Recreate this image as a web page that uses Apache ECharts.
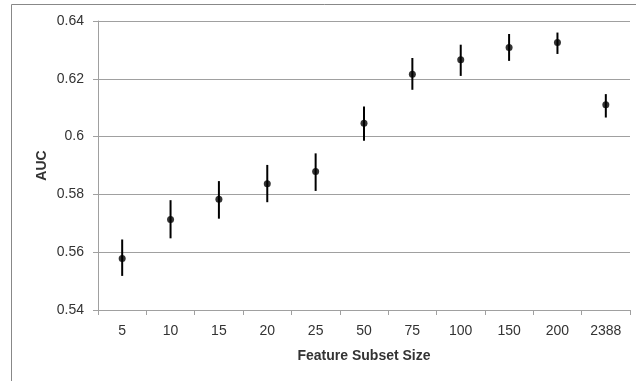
<!DOCTYPE html>
<html>
<head>
<meta charset="utf-8">
<script src="https://cdn.jsdelivr.net/npm/echarts@6/dist/echarts.min.js"></script>
<style>
  html, body { margin: 0; padding: 0; background: #fff; }
  #chart { width: 636px; height: 381px; }
</style>
</head>
<body>
<div id="chart"></div>
<script>
// Feature subset sizes on the category axis
const categories = ['5', '10', '15', '20', '25', '50', '75', '100', '150', '200', '2388'];
// Mean AUC per subset size
const aucMean = [0.5578, 0.5713, 0.5783, 0.5837, 0.5879, 0.6046, 0.6216, 0.6266, 0.6308, 0.6326, 0.6110];
// Lower and upper ends of the error bars
const aucLow  = [0.5518, 0.5648, 0.5716, 0.5773, 0.5812, 0.5986, 0.6162, 0.6210, 0.6262, 0.6286, 0.6066];
const aucHigh = [0.5644, 0.5780, 0.5846, 0.5902, 0.5942, 0.6104, 0.6272, 0.6318, 0.6355, 0.6360, 0.6147];
// Value axis tick labels
const yTicks = ['0.54', '0.56', '0.58', '0.6', '0.62', '0.64'];

const chart = echarts.init(document.getElementById('chart'), null, { renderer: 'canvas' });

const textColor = '#333';
const fontFamily = '"Liberation Sans", Arial, sans-serif';

const errData = categories.map((c, i) => [i, aucLow[i], aucHigh[i]]);

chart.setOption({
  animation: false,
  backgroundColor: '#fff',
  graphic: [{
    type: 'rect',
    shape: { x: 11.5, y: 4.5, width: 900, height: 900 },
    style: { fill: 'none', stroke: '#888', lineWidth: 1 },
    silent: true,
    z: -10
  }],
  grid: { left: 98, right: 6, top: 21, bottom: 71 },
  xAxis: {
    type: 'category',
    data: categories,
    boundaryGap: true,
    name: 'Feature Subset Size',
    nameLocation: 'middle',
    nameGap: 39,
    nameTextStyle: { fontFamily, fontSize: 14, fontWeight: 'bold', color: textColor },
    axisLine: { lineStyle: { color: '#a0a0a0', width: 1 } },
    axisTick: { show: true, alignWithLabel: false, length: 5, lineStyle: { color: '#a0a0a0' } },
    axisLabel: { fontFamily, fontSize: 14, color: textColor, margin: 14 },
    splitLine: { show: false }
  },
  yAxis: {
    type: 'value',
    min: 0.54,
    max: 0.64,
    interval: 0.02,
    name: 'AUC',
    nameLocation: 'middle',
    nameRotate: 90,
    nameGap: 49,
    nameMoveOverlap: false,
    nameTextStyle: { fontFamily, fontSize: 14, fontWeight: 'bold', color: textColor },
    axisLine: { show: true, lineStyle: { color: '#a0a0a0', width: 1 } },
    axisTick: { show: true, length: 5, lineStyle: { color: '#a0a0a0' } },
    axisLabel: {
      fontFamily, fontSize: 14, color: textColor, margin: 14,
      formatter: v => yTicks.find(t => Math.abs(parseFloat(t) - v) < 1e-6) || v.toFixed(2)
    },
    splitLine: { show: true, lineStyle: { color: '#a0a0a0', width: 1 } }
  },
  series: [
    {
      type: 'custom',
      name: 'range',
      data: errData,
      encode: { x: 0, y: [1, 2] },
      renderItem: (params, api) => {
        const x = api.value(0);
        const lo = api.coord([x, api.value(1)]);
        const hi = api.coord([x, api.value(2)]);
        return {
          type: 'line',
          shape: { x1: lo[0], y1: lo[1], x2: hi[0], y2: hi[1] },
          style: { stroke: '#000', lineWidth: 2 }
        };
      },
      z: 2
    },
    {
      type: 'scatter',
      name: 'AUC',
      data: aucMean,
      symbol: 'circle',
      symbolSize: 7,
      itemStyle: { color: '#000' },
      z: 3
    }
  ]
});
</script>
</body>
</html>
